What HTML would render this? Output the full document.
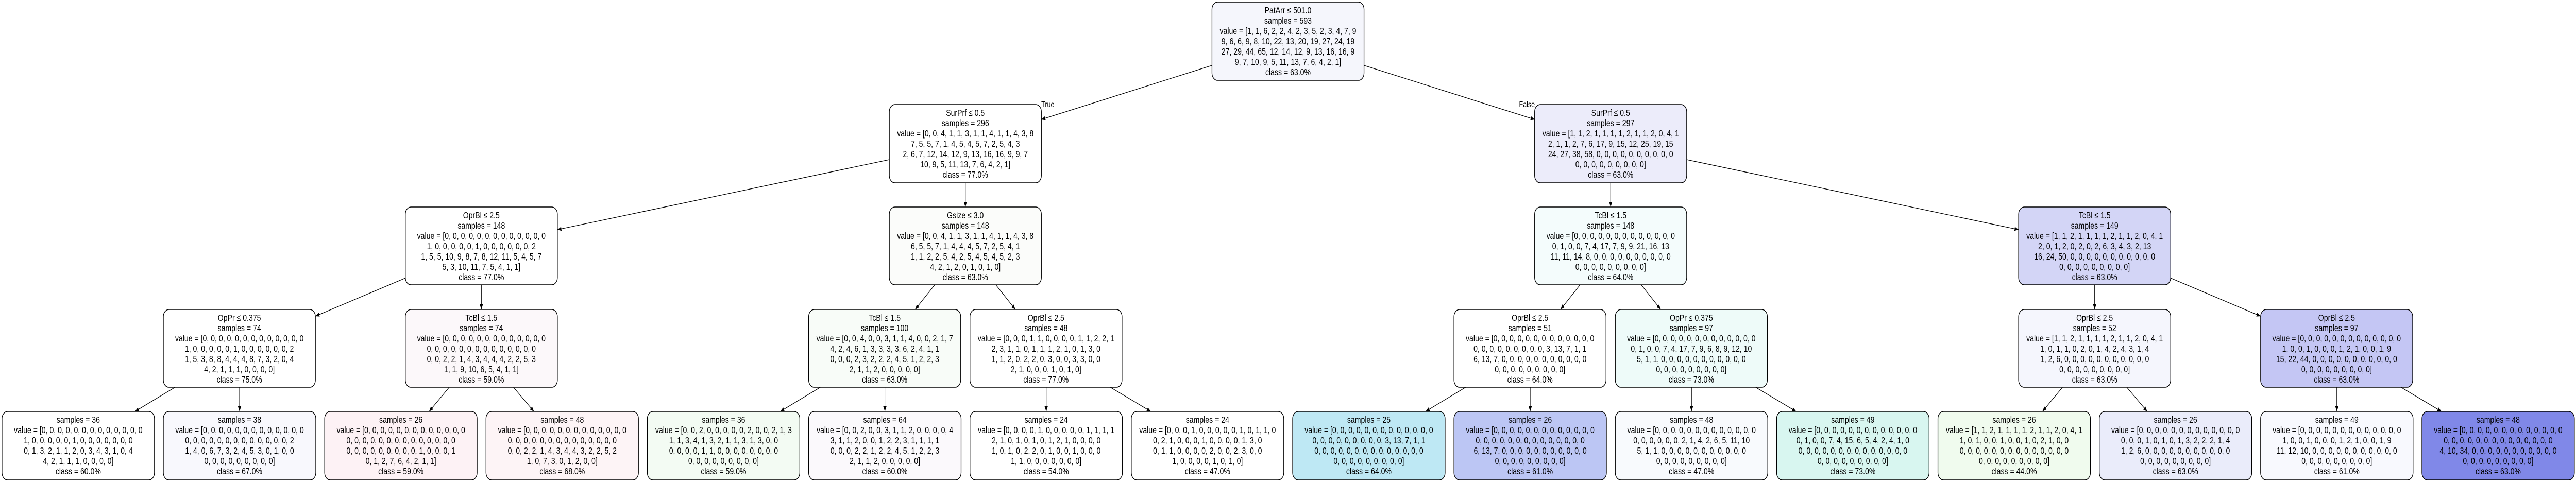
<!DOCTYPE html>
<html><head><meta charset="utf-8"><style>
html,body{margin:0;padding:0;background:#fff;width:100vw;height:100vh;overflow:hidden;}
svg{display:block;width:100vw;height:100vh;}
text{font-family:"Liberation Sans",Arial,sans-serif;font-size:18px;fill:#000;text-anchor:middle;}
rect{stroke:#000;stroke-width:1.6;}
line{stroke:#000;stroke-width:1.3;}
</style></head><body>
<svg viewBox="0 0 6387 936" preserveAspectRatio="none" xmlns="http://www.w3.org/2000/svg">
<defs><marker id="a" viewBox="0 0 10 10" refX="10" refY="5" markerWidth="10" markerHeight="10" markerUnits="userSpaceOnUse" orient="auto"><path d="M0,1 L10,5 L0,9 z" fill="#000"/></marker></defs>
<rect width="6387" height="936" fill="#fff" style="stroke:none"/>
<g marker-end="url(#a)">
<line x1="3005" y1="127" x2="2582" y2="232"/>
<line x1="3382" y1="127" x2="3805" y2="232"/>
<line x1="2205" y1="310" x2="1382" y2="446"/>
<line x1="2393.5" y1="355" x2="2393.5" y2="402"/>
<line x1="3993.5" y1="355" x2="3993.5" y2="402"/>
<line x1="4182" y1="310" x2="5005" y2="446"/>
<line x1="1005" y1="540" x2="782" y2="614"/>
<line x1="1193.5" y1="553" x2="1193.5" y2="601"/>
<line x1="2317.7" y1="553" x2="2269" y2="601"/>
<line x1="2469" y1="553" x2="2517.5" y2="601"/>
<line x1="3917.7" y1="553" x2="3869.3" y2="601"/>
<line x1="4069.3" y1="553" x2="4117.7" y2="601"/>
<line x1="5193.5" y1="553" x2="5193.5" y2="601"/>
<line x1="5382" y1="540" x2="5605" y2="614"/>
<line x1="434" y1="752" x2="334.6" y2="799"/>
<line x1="594" y1="752" x2="594" y2="799"/>
<line x1="1113.8" y1="752" x2="1064" y2="799"/>
<line x1="1273.2" y1="752" x2="1323.8" y2="799"/>
<line x1="2033.9" y1="752" x2="1934.6" y2="799"/>
<line x1="2194" y1="752" x2="2194" y2="799"/>
<line x1="2594" y1="752" x2="2594" y2="799"/>
<line x1="2753.1" y1="752" x2="2853.4" y2="799"/>
<line x1="3633.9" y1="752" x2="3534.6" y2="799"/>
<line x1="3794" y1="752" x2="3794" y2="799"/>
<line x1="4194" y1="752" x2="4194" y2="799"/>
<line x1="4353.1" y1="752" x2="4453.4" y2="799"/>
<line x1="5113.8" y1="752" x2="5064.2" y2="799"/>
<line x1="5273.2" y1="752" x2="5323.8" y2="799"/>
<line x1="5794" y1="752" x2="5794" y2="799"/>
<line x1="5953.1" y1="752" x2="6053.4" y2="799"/>
</g>
<text x="2598" y="208" style="font-size:16px">True</text>
<text x="3786" y="208" style="font-size:16px">False</text>

<rect x="3005" y="4" width="377" height="152" rx="14" fill="#f5f6fc"/>
<text x="3193.5" y="26">PatArr ≤ 501.0</text>
<text x="3193.5" y="46">samples = 593</text>
<text x="3193.5" y="66">value = [1, 1, 6, 2, 2, 4, 2, 3, 5, 2, 3, 4, 7, 9</text>
<text x="3193.5" y="86">9, 6, 6, 9, 8, 10, 22, 13, 20, 19, 27, 24, 19</text>
<text x="3193.5" y="106">27, 29, 44, 65, 12, 14, 12, 9, 13, 16, 16, 9</text>
<text x="3193.5" y="126">9, 7, 10, 9, 5, 11, 13, 7, 6, 4, 2, 1]</text>
<text x="3193.5" y="146">class = 63.0%</text>

<rect x="2205" y="203" width="377" height="152" rx="14" fill="#ffffff"/>
<text x="2393.5" y="225">SurPrf ≤ 0.5</text>
<text x="2393.5" y="245">samples = 296</text>
<text x="2393.5" y="265">value = [0, 0, 4, 1, 1, 3, 1, 1, 4, 1, 1, 4, 3, 8</text>
<text x="2393.5" y="285">7, 5, 5, 7, 1, 4, 5, 4, 5, 7, 2, 5, 4, 3</text>
<text x="2393.5" y="305">2, 6, 7, 12, 14, 12, 9, 13, 16, 16, 9, 9, 7</text>
<text x="2393.5" y="325">10, 9, 5, 11, 13, 7, 6, 4, 2, 1]</text>
<text x="2393.5" y="345">class = 77.0%</text>

<rect x="3805" y="203" width="377" height="152" rx="14" fill="#ececfa"/>
<text x="3993.5" y="225">SurPrf ≤ 0.5</text>
<text x="3993.5" y="245">samples = 297</text>
<text x="3993.5" y="265">value = [1, 1, 2, 1, 1, 1, 1, 2, 1, 1, 2, 0, 4, 1</text>
<text x="3993.5" y="285">2, 1, 1, 2, 7, 6, 17, 9, 15, 12, 25, 19, 15</text>
<text x="3993.5" y="305">24, 27, 38, 58, 0, 0, 0, 0, 0, 0, 0, 0, 0, 0</text>
<text x="3993.5" y="325">0, 0, 0, 0, 0, 0, 0, 0, 0]</text>
<text x="3993.5" y="345">class = 63.0%</text>

<rect x="1005" y="402" width="377" height="151" rx="14" fill="#ffffff"/>
<text x="1193.5" y="424">OprBl ≤ 2.5</text>
<text x="1193.5" y="444">samples = 148</text>
<text x="1193.5" y="464">value = [0, 0, 0, 0, 0, 0, 0, 0, 0, 0, 0, 0, 0</text>
<text x="1193.5" y="484">1, 0, 0, 0, 0, 0, 1, 0, 0, 0, 0, 0, 0, 2</text>
<text x="1193.5" y="504">1, 5, 5, 10, 9, 8, 7, 8, 12, 11, 5, 4, 5, 7</text>
<text x="1193.5" y="524">5, 3, 10, 11, 7, 5, 4, 1, 1]</text>
<text x="1193.5" y="544">class = 77.0%</text>

<rect x="2205" y="402" width="377" height="151" rx="14" fill="#fbfcfa"/>
<text x="2393.5" y="424">Gsize ≤ 3.0</text>
<text x="2393.5" y="444">samples = 148</text>
<text x="2393.5" y="464">value = [0, 0, 4, 1, 1, 3, 1, 1, 4, 1, 1, 4, 3, 8</text>
<text x="2393.5" y="484">6, 5, 5, 7, 1, 4, 4, 4, 5, 7, 2, 5, 4, 1</text>
<text x="2393.5" y="504">1, 1, 2, 2, 5, 4, 2, 5, 4, 5, 4, 5, 2, 3</text>
<text x="2393.5" y="524">4, 2, 1, 2, 0, 1, 0, 1, 0]</text>
<text x="2393.5" y="544">class = 63.0%</text>

<rect x="3805" y="402" width="377" height="151" rx="14" fill="#f4fcfc"/>
<text x="3993.5" y="424">TcBl ≤ 1.5</text>
<text x="3993.5" y="444">samples = 148</text>
<text x="3993.5" y="464">value = [0, 0, 0, 0, 0, 0, 0, 0, 0, 0, 0, 0, 0</text>
<text x="3993.5" y="484">0, 1, 0, 0, 7, 4, 17, 7, 9, 9, 21, 16, 13</text>
<text x="3993.5" y="504">11, 11, 14, 8, 0, 0, 0, 0, 0, 0, 0, 0, 0, 0</text>
<text x="3993.5" y="524">0, 0, 0, 0, 0, 0, 0, 0, 0]</text>
<text x="3993.5" y="544">class = 64.0%</text>

<rect x="5005" y="402" width="377" height="151" rx="14" fill="#d3d5f6"/>
<text x="5193.5" y="424">TcBl ≤ 1.5</text>
<text x="5193.5" y="444">samples = 149</text>
<text x="5193.5" y="464">value = [1, 1, 2, 1, 1, 1, 1, 2, 1, 1, 2, 0, 4, 1</text>
<text x="5193.5" y="484">2, 0, 1, 2, 0, 2, 0, 2, 6, 3, 4, 3, 2, 13</text>
<text x="5193.5" y="504">16, 24, 50, 0, 0, 0, 0, 0, 0, 0, 0, 0, 0, 0</text>
<text x="5193.5" y="524">0, 0, 0, 0, 0, 0, 0, 0, 0]</text>
<text x="5193.5" y="544">class = 63.0%</text>

<rect x="405" y="601" width="377" height="151" rx="14" fill="#ffffff"/>
<text x="593.5" y="623">OpPr ≤ 0.375</text>
<text x="593.5" y="643">samples = 74</text>
<text x="593.5" y="663">value = [0, 0, 0, 0, 0, 0, 0, 0, 0, 0, 0, 0, 0</text>
<text x="593.5" y="683">1, 0, 0, 0, 0, 0, 1, 0, 0, 0, 0, 0, 0, 2</text>
<text x="593.5" y="703">1, 5, 3, 8, 8, 4, 4, 4, 8, 7, 3, 2, 0, 4</text>
<text x="593.5" y="723">4, 2, 1, 1, 1, 0, 0, 0, 0]</text>
<text x="593.5" y="743">class = 75.0%</text>

<rect x="1005" y="601" width="377" height="151" rx="14" fill="#fcf8fa"/>
<text x="1193.5" y="623">TcBl ≤ 1.5</text>
<text x="1193.5" y="643">samples = 74</text>
<text x="1193.5" y="663">value = [0, 0, 0, 0, 0, 0, 0, 0, 0, 0, 0, 0, 0</text>
<text x="1193.5" y="683">0, 0, 0, 0, 0, 0, 0, 0, 0, 0, 0, 0, 0, 0</text>
<text x="1193.5" y="703">0, 0, 2, 2, 1, 4, 3, 4, 4, 4, 2, 2, 5, 3</text>
<text x="1193.5" y="723">1, 1, 9, 10, 6, 5, 4, 1, 1]</text>
<text x="1193.5" y="743">class = 59.0%</text>

<rect x="2005" y="601" width="377" height="151" rx="14" fill="#f8fcf8"/>
<text x="2193.5" y="623">TcBl ≤ 1.5</text>
<text x="2193.5" y="643">samples = 100</text>
<text x="2193.5" y="663">value = [0, 0, 4, 0, 0, 3, 1, 1, 4, 0, 0, 2, 1, 7</text>
<text x="2193.5" y="683">4, 2, 4, 6, 1, 3, 3, 3, 3, 6, 2, 4, 1, 1</text>
<text x="2193.5" y="703">0, 0, 0, 2, 3, 2, 2, 2, 4, 5, 1, 2, 2, 3</text>
<text x="2193.5" y="723">2, 1, 1, 2, 0, 0, 0, 0, 0]</text>
<text x="2193.5" y="743">class = 63.0%</text>

<rect x="2405" y="601" width="377" height="151" rx="14" fill="#ffffff"/>
<text x="2593.5" y="623">OprBl ≤ 2.5</text>
<text x="2593.5" y="643">samples = 48</text>
<text x="2593.5" y="663">value = [0, 0, 0, 1, 1, 0, 0, 0, 0, 1, 1, 2, 2, 1</text>
<text x="2593.5" y="683">2, 3, 1, 1, 0, 1, 1, 1, 2, 1, 0, 1, 3, 0</text>
<text x="2593.5" y="703">1, 1, 2, 0, 2, 2, 0, 3, 0, 0, 3, 3, 0, 0</text>
<text x="2593.5" y="723">2, 1, 0, 0, 0, 1, 0, 1, 0]</text>
<text x="2593.5" y="743">class = 77.0%</text>

<rect x="3605" y="601" width="377" height="151" rx="14" fill="#ffffff"/>
<text x="3793.5" y="623">OprBl ≤ 2.5</text>
<text x="3793.5" y="643">samples = 51</text>
<text x="3793.5" y="663">value = [0, 0, 0, 0, 0, 0, 0, 0, 0, 0, 0, 0, 0</text>
<text x="3793.5" y="683">0, 0, 0, 0, 0, 0, 0, 0, 0, 3, 13, 7, 1, 1</text>
<text x="3793.5" y="703">6, 13, 7, 0, 0, 0, 0, 0, 0, 0, 0, 0, 0, 0</text>
<text x="3793.5" y="723">0, 0, 0, 0, 0, 0, 0, 0, 0]</text>
<text x="3793.5" y="743">class = 64.0%</text>

<rect x="4005" y="601" width="377" height="151" rx="14" fill="#eefbf9"/>
<text x="4193.5" y="623">OpPr ≤ 0.375</text>
<text x="4193.5" y="643">samples = 97</text>
<text x="4193.5" y="663">value = [0, 0, 0, 0, 0, 0, 0, 0, 0, 0, 0, 0, 0</text>
<text x="4193.5" y="683">0, 1, 0, 0, 7, 4, 17, 7, 9, 6, 8, 9, 12, 10</text>
<text x="4193.5" y="703">5, 1, 1, 0, 0, 0, 0, 0, 0, 0, 0, 0, 0, 0</text>
<text x="4193.5" y="723">0, 0, 0, 0, 0, 0, 0, 0, 0]</text>
<text x="4193.5" y="743">class = 73.0%</text>

<rect x="5005" y="601" width="377" height="151" rx="14" fill="#f5f6fd"/>
<text x="5193.5" y="623">OprBl ≤ 2.5</text>
<text x="5193.5" y="643">samples = 52</text>
<text x="5193.5" y="663">value = [1, 1, 2, 1, 1, 1, 1, 2, 1, 1, 2, 0, 4, 1</text>
<text x="5193.5" y="683">1, 0, 1, 1, 0, 2, 0, 1, 4, 2, 4, 3, 1, 4</text>
<text x="5193.5" y="703">1, 2, 6, 0, 0, 0, 0, 0, 0, 0, 0, 0, 0, 0</text>
<text x="5193.5" y="723">0, 0, 0, 0, 0, 0, 0, 0, 0]</text>
<text x="5193.5" y="743">class = 63.0%</text>

<rect x="5605" y="601" width="377" height="151" rx="14" fill="#c4c6f4"/>
<text x="5793.5" y="623">OprBl ≤ 2.5</text>
<text x="5793.5" y="643">samples = 97</text>
<text x="5793.5" y="663">value = [0, 0, 0, 0, 0, 0, 0, 0, 0, 0, 0, 0, 0</text>
<text x="5793.5" y="683">1, 0, 0, 1, 0, 0, 0, 1, 2, 1, 0, 0, 1, 9</text>
<text x="5793.5" y="703">15, 22, 44, 0, 0, 0, 0, 0, 0, 0, 0, 0, 0, 0</text>
<text x="5793.5" y="723">0, 0, 0, 0, 0, 0, 0, 0, 0]</text>
<text x="5793.5" y="743">class = 63.0%</text>

<rect x="5" y="799" width="378" height="133" rx="14" fill="#ffffff"/>
<text x="194" y="821">samples = 36</text>
<text x="194" y="841">value = [0, 0, 0, 0, 0, 0, 0, 0, 0, 0, 0, 0, 0</text>
<text x="194" y="861">1, 0, 0, 0, 0, 0, 1, 0, 0, 0, 0, 0, 0, 0</text>
<text x="194" y="881">0, 1, 3, 2, 1, 1, 2, 0, 3, 4, 3, 1, 0, 4</text>
<text x="194" y="901">4, 2, 1, 1, 1, 0, 0, 0, 0]</text>
<text x="194" y="921">class = 60.0%</text>

<rect x="405" y="799" width="378" height="133" rx="14" fill="#f8f8fd"/>
<text x="594" y="821">samples = 38</text>
<text x="594" y="841">value = [0, 0, 0, 0, 0, 0, 0, 0, 0, 0, 0, 0, 0</text>
<text x="594" y="861">0, 0, 0, 0, 0, 0, 0, 0, 0, 0, 0, 0, 0, 2</text>
<text x="594" y="881">1, 4, 0, 6, 7, 3, 2, 4, 5, 3, 0, 1, 0, 0</text>
<text x="594" y="901">0, 0, 0, 0, 0, 0, 0, 0, 0]</text>
<text x="594" y="921">class = 67.0%</text>

<rect x="805" y="799" width="378" height="133" rx="14" fill="#fdf2f5"/>
<text x="994" y="821">samples = 26</text>
<text x="994" y="841">value = [0, 0, 0, 0, 0, 0, 0, 0, 0, 0, 0, 0, 0</text>
<text x="994" y="861">0, 0, 0, 0, 0, 0, 0, 0, 0, 0, 0, 0, 0, 0</text>
<text x="994" y="881">0, 0, 0, 0, 0, 0, 0, 0, 0, 1, 0, 0, 0, 1</text>
<text x="994" y="901">0, 1, 2, 7, 6, 4, 2, 1, 1]</text>
<text x="994" y="921">class = 59.0%</text>

<rect x="1205" y="799" width="378" height="133" rx="14" fill="#fdf4f6"/>
<text x="1394" y="821">samples = 48</text>
<text x="1394" y="841">value = [0, 0, 0, 0, 0, 0, 0, 0, 0, 0, 0, 0, 0</text>
<text x="1394" y="861">0, 0, 0, 0, 0, 0, 0, 0, 0, 0, 0, 0, 0, 0</text>
<text x="1394" y="881">0, 0, 2, 2, 1, 4, 3, 4, 4, 3, 2, 2, 5, 2</text>
<text x="1394" y="901">1, 0, 7, 3, 0, 1, 2, 0, 0]</text>
<text x="1394" y="921">class = 68.0%</text>

<rect x="1605" y="799" width="378" height="133" rx="14" fill="#f3fbf3"/>
<text x="1794" y="821">samples = 36</text>
<text x="1794" y="841">value = [0, 0, 2, 0, 0, 0, 0, 0, 2, 0, 0, 2, 1, 3</text>
<text x="1794" y="861">1, 1, 3, 4, 1, 3, 2, 1, 1, 3, 1, 3, 0, 0</text>
<text x="1794" y="881">0, 0, 0, 0, 1, 1, 0, 0, 0, 0, 0, 0, 0, 0</text>
<text x="1794" y="901">0, 0, 0, 0, 0, 0, 0, 0, 0]</text>
<text x="1794" y="921">class = 59.0%</text>

<rect x="2005" y="799" width="378" height="133" rx="14" fill="#fbf9fc"/>
<text x="2194" y="821">samples = 64</text>
<text x="2194" y="841">value = [0, 0, 2, 0, 0, 3, 1, 1, 2, 0, 0, 0, 0, 4</text>
<text x="2194" y="861">3, 1, 1, 2, 0, 0, 1, 2, 2, 3, 1, 1, 1, 1</text>
<text x="2194" y="881">0, 0, 0, 2, 2, 1, 2, 2, 4, 5, 1, 2, 2, 3</text>
<text x="2194" y="901">2, 1, 1, 2, 0, 0, 0, 0, 0]</text>
<text x="2194" y="921">class = 60.0%</text>

<rect x="2405" y="799" width="378" height="133" rx="14" fill="#ffffff"/>
<text x="2594" y="821">samples = 24</text>
<text x="2594" y="841">value = [0, 0, 0, 0, 1, 0, 0, 0, 0, 0, 1, 1, 1, 1</text>
<text x="2594" y="861">2, 1, 0, 1, 0, 1, 0, 1, 2, 1, 0, 0, 0, 0</text>
<text x="2594" y="881">1, 0, 1, 0, 2, 2, 0, 1, 0, 0, 1, 0, 0, 0</text>
<text x="2594" y="901">1, 1, 0, 0, 0, 0, 0, 0, 0]</text>
<text x="2594" y="921">class = 54.0%</text>

<rect x="2805" y="799" width="378" height="133" rx="14" fill="#ffffff"/>
<text x="2994" y="821">samples = 24</text>
<text x="2994" y="841">value = [0, 0, 0, 1, 0, 0, 0, 0, 0, 1, 0, 1, 1, 0</text>
<text x="2994" y="861">0, 2, 1, 0, 0, 0, 1, 0, 0, 0, 0, 1, 3, 0</text>
<text x="2994" y="881">0, 1, 1, 0, 0, 0, 0, 2, 0, 0, 2, 3, 0, 0</text>
<text x="2994" y="901">1, 0, 0, 0, 0, 1, 0, 1, 0]</text>
<text x="2994" y="921">class = 47.0%</text>

<rect x="3205" y="799" width="378" height="133" rx="14" fill="#bee8f4"/>
<text x="3394" y="821">samples = 25</text>
<text x="3394" y="841">value = [0, 0, 0, 0, 0, 0, 0, 0, 0, 0, 0, 0, 0</text>
<text x="3394" y="861">0, 0, 0, 0, 0, 0, 0, 0, 0, 3, 13, 7, 1, 1</text>
<text x="3394" y="881">0, 0, 0, 0, 0, 0, 0, 0, 0, 0, 0, 0, 0, 0</text>
<text x="3394" y="901">0, 0, 0, 0, 0, 0, 0, 0, 0]</text>
<text x="3394" y="921">class = 64.0%</text>

<rect x="3605" y="799" width="378" height="133" rx="14" fill="#bcc6f4"/>
<text x="3794" y="821">samples = 26</text>
<text x="3794" y="841">value = [0, 0, 0, 0, 0, 0, 0, 0, 0, 0, 0, 0, 0</text>
<text x="3794" y="861">0, 0, 0, 0, 0, 0, 0, 0, 0, 0, 0, 0, 0, 0</text>
<text x="3794" y="881">6, 13, 7, 0, 0, 0, 0, 0, 0, 0, 0, 0, 0, 0</text>
<text x="3794" y="901">0, 0, 0, 0, 0, 0, 0, 0, 0]</text>
<text x="3794" y="921">class = 61.0%</text>

<rect x="4005" y="799" width="378" height="133" rx="14" fill="#f8fafd"/>
<text x="4194" y="821">samples = 48</text>
<text x="4194" y="841">value = [0, 0, 0, 0, 0, 0, 0, 0, 0, 0, 0, 0, 0</text>
<text x="4194" y="861">0, 0, 0, 0, 0, 0, 2, 1, 4, 2, 6, 5, 11, 10</text>
<text x="4194" y="881">5, 1, 1, 0, 0, 0, 0, 0, 0, 0, 0, 0, 0, 0</text>
<text x="4194" y="901">0, 0, 0, 0, 0, 0, 0, 0, 0]</text>
<text x="4194" y="921">class = 47.0%</text>

<rect x="4405" y="799" width="378" height="133" rx="14" fill="#d8f6f0"/>
<text x="4594" y="821">samples = 49</text>
<text x="4594" y="841">value = [0, 0, 0, 0, 0, 0, 0, 0, 0, 0, 0, 0, 0</text>
<text x="4594" y="861">0, 1, 0, 0, 7, 4, 15, 6, 5, 4, 2, 4, 1, 0</text>
<text x="4594" y="881">0, 0, 0, 0, 0, 0, 0, 0, 0, 0, 0, 0, 0, 0</text>
<text x="4594" y="901">0, 0, 0, 0, 0, 0, 0, 0, 0]</text>
<text x="4594" y="921">class = 73.0%</text>

<rect x="4805" y="799" width="378" height="133" rx="14" fill="#f0fbee"/>
<text x="4994" y="821">samples = 26</text>
<text x="4994" y="841">value = [1, 1, 2, 1, 1, 1, 1, 2, 1, 1, 2, 0, 4, 1</text>
<text x="4994" y="861">1, 0, 1, 0, 0, 1, 0, 0, 1, 0, 2, 1, 0, 0</text>
<text x="4994" y="881">0, 0, 0, 0, 0, 0, 0, 0, 0, 0, 0, 0, 0, 0</text>
<text x="4994" y="901">0, 0, 0, 0, 0, 0, 0, 0, 0]</text>
<text x="4994" y="921">class = 44.0%</text>

<rect x="5205" y="799" width="378" height="133" rx="14" fill="#eaecfa"/>
<text x="5394" y="821">samples = 26</text>
<text x="5394" y="841">value = [0, 0, 0, 0, 0, 0, 0, 0, 0, 0, 0, 0, 0</text>
<text x="5394" y="861">0, 0, 0, 1, 0, 1, 0, 1, 3, 2, 2, 2, 1, 4</text>
<text x="5394" y="881">1, 2, 6, 0, 0, 0, 0, 0, 0, 0, 0, 0, 0, 0</text>
<text x="5394" y="901">0, 0, 0, 0, 0, 0, 0, 0, 0]</text>
<text x="5394" y="921">class = 63.0%</text>

<rect x="5605" y="799" width="378" height="133" rx="14" fill="#f8f9fe"/>
<text x="5794" y="821">samples = 49</text>
<text x="5794" y="841">value = [0, 0, 0, 0, 0, 0, 0, 0, 0, 0, 0, 0, 0</text>
<text x="5794" y="861">1, 0, 0, 1, 0, 0, 0, 1, 2, 1, 0, 0, 1, 9</text>
<text x="5794" y="881">11, 12, 10, 0, 0, 0, 0, 0, 0, 0, 0, 0, 0, 0</text>
<text x="5794" y="901">0, 0, 0, 0, 0, 0, 0, 0, 0]</text>
<text x="5794" y="921">class = 61.0%</text>

<rect x="6005" y="799" width="378" height="133" rx="14" fill="#8088e8"/>
<text x="6194" y="821">samples = 48</text>
<text x="6194" y="841">value = [0, 0, 0, 0, 0, 0, 0, 0, 0, 0, 0, 0, 0</text>
<text x="6194" y="861">0, 0, 0, 0, 0, 0, 0, 0, 0, 0, 0, 0, 0, 0</text>
<text x="6194" y="881">4, 10, 34, 0, 0, 0, 0, 0, 0, 0, 0, 0, 0, 0</text>
<text x="6194" y="901">0, 0, 0, 0, 0, 0, 0, 0, 0]</text>
<text x="6194" y="921">class = 63.0%</text>
</svg>
</body></html>
